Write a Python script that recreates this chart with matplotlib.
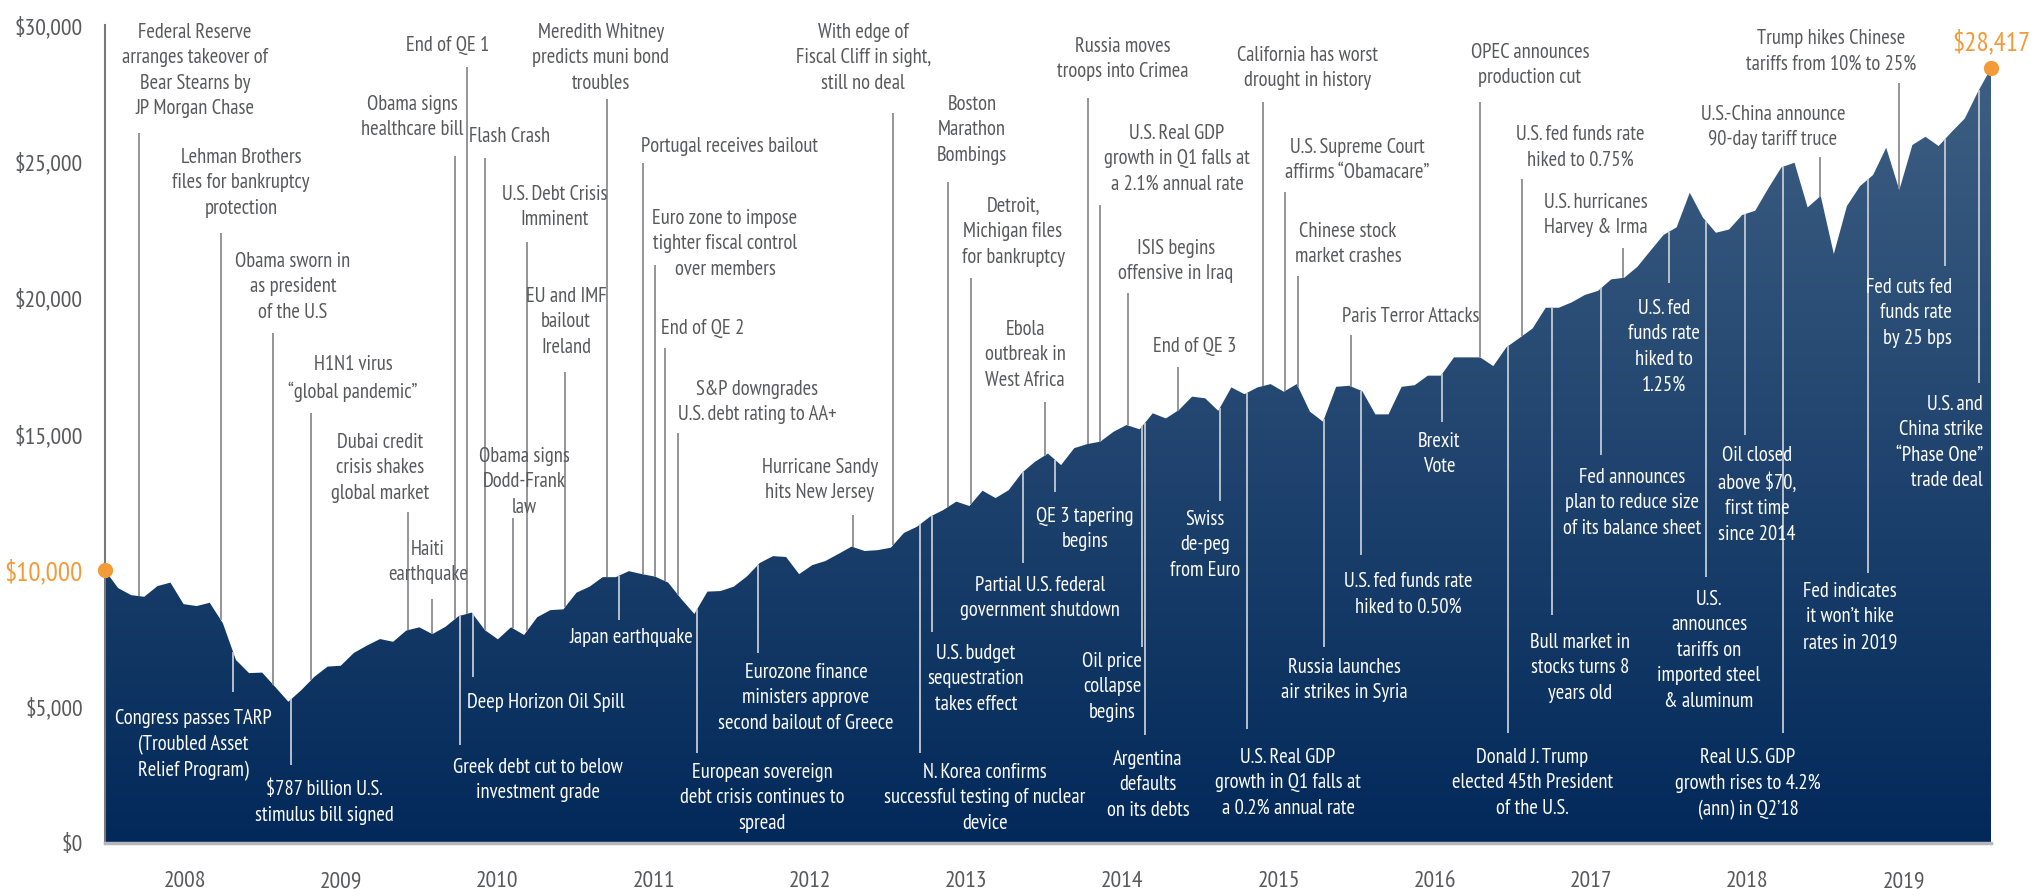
import numpy as np
import matplotlib
matplotlib.use("Agg")
import matplotlib.pyplot as plt
from matplotlib.colors import LinearSegmentedColormap
from matplotlib.patches import Polygon

plt.rcParams['font.family'] = ['PT Sans Narrow', 'Fira Sans Condensed', 'DejaVu Sans']

# growth of $10,000, month ends from Dec 2007 to Dec 2019
values = [10000, 9350, 9090, 9030, 9420, 9550, 8760, 8690, 8810, 8060, 6710, 6230,
          6250, 5720, 5180, 5610, 6100, 6470, 6500, 6970, 7240, 7480, 7380, 7790,
          7910, 7660, 7930, 8320, 8450, 7810, 7470, 7910, 7630, 8280, 8540, 8570,
          9180, 9400, 9750, 9750, 9970, 9860, 9770, 9550, 8950, 8400, 9220, 9240,
          9400, 9770, 10270, 10520, 10490, 9860, 10190, 10340, 10600, 10870, 10710, 10740,
          10830, 11370, 11600, 11970, 12210, 12520, 12360, 12920, 12650, 12940, 13570, 13980,
          14280, 13860, 14480, 14630, 14720, 15080, 15330, 15170, 15760, 15570, 15880, 16370,
          16310, 15850, 16710, 16460, 16710, 16830, 16550, 16830, 15820, 15450, 16730, 16770,
          16570, 15720, 15720, 16730, 16790, 17140, 17140, 17810, 17810, 17810, 17490, 18180,
          18520, 18870, 19630, 19630, 19830, 20100, 20250, 20670, 20730, 21130, 21720, 22300,
          22580, 23850, 22940, 22380, 22500, 23030, 23190, 24010, 24780, 24950, 23310, 23730,
          21600, 23360, 24090, 24500, 25500, 23950, 25600, 25900, 25560, 26080, 26570, 27550,
          28417]
years = ['2008', '2009', '2010', '2011', '2012', '2013',
         '2014', '2015', '2016', '2017', '2018', '2019']
yticks = [0, 5000, 10000, 15000, 20000, 25000, 30000]

# events drawn above the curve: (text, month index)
events_above = [
    ("Federal Reserve\narranges takeover of\nBear Stearns by\nJP Morgan Chase", 2.6),
    ("Lehman Brothers\nfiles for bankruptcy\nprotection", 8.86),
    ("Obama sworn in\nas president\nof the U.S", 12.83),
    ("H1N1 virus\n“global pandemic”", 15.73),
    ("Dubai credit\ncrisis shakes\nglobal market", 23.13),
    ("Haiti\nearthquake", 24.97),
    ("Obama signs\nhealthcare bill", 26.72),
    ("End of QE 1", 27.64),
    ("Flash Crash", 29.01),
    ("Obama signs\nDodd-Frank\nlaw", 31.15),
    ("U.S. Debt Crisis\nImminent", 32.22),
    ("EU and IMF\nbailout\nIreland", 35.12),
    ("Meredith Whitney\npredicts muni bond\ntroubles", 38.33),
    ("Portugal receives bailout", 41.08),
    ("Euro zone to impose\ntighter fiscal control\nover members", 41.99),
    ("End of QE 2", 42.76),
    ("S&P downgrades\nU.S. debt rating to AA+", 43.75),
    ("Hurricane Sandy\nhits New Jersey", 57.11),
    ("With edge of\nFiscal Cliff in sight,\nstill no deal", 60.17),
    ("Boston\nMarathon\nBombings", 64.37),
    ("Detroit,\nMichigan files\nfor bankruptcy", 66.12),
    ("Ebola\noutbreak in\nWest Africa", 71.77),
    ("Russia moves\ntroops into Crimea", 75.06),
    ("U.S. Real GDP\ngrowth in Q1 falls at\na 2.1% annual rate", 75.97),
    ("ISIS begins\noffensive in Iraq", 78.11),
    ("End of QE 3", 81.93),
    ("California has worst\ndrought in history", 88.42),
    ("U.S. Supreme Court\naffirms “Obamacare”", 90.1),
    ("Chinese stock\nmarket crashes", 91.09),
    ("Paris Terror Attacks", 95.14),
    ("OPEC announces\nproduction cut", 104.99),
    ("U.S. fed funds rate\nhiked to 0.75%", 108.19),
    ("U.S. hurricanes\nHarvey & Irma", 115.91),
    ("U.S.-China announce\n90-day tariff truce", 130.95),
    ("Trump hikes Chinese\ntariffs from 10% to 25%", 136.98),
]

# events drawn inside the area: (text, month index)
events_below = [
    ("Congress passes TARP\n(Troubled Asset\nRelief Program)", 9.77),
    ("$787 billion U.S.\nstimulus bill signed", 14.2),
    ("Greek debt cut to below\ninvestment grade", 27.11),
    ("Deep Horizon Oil Spill", 28.1),
    ("Japan earthquake", 39.25),
    ("European sovereign\ndebt crisis continues to\nspread", 45.2),
    ("Eurozone finance\nministers approve\nsecond bailout of Greece", 49.86),
    ("N. Korea confirms\nsuccessful testing of nuclear\ndevice", 62.23),
    ("U.S. budget\nsequestration\ntakes effect", 63.14),
    ("Partial U.S. federal\ngovernment shutdown", 70.09),
    ("QE 3 tapering\nbegins", 72.54),
    ("Oil price\ncollapse\nbegins", 79.18),
    ("Argentina\ndefaults\non its debts", 79.41),
    ("Swiss\nde-peg\nfrom Euro", 85.13),
    ("U.S. Real GDP\ngrowth in Q1 falls at\na 0.2% annual rate", 87.2),
    ("Russia launches\nair strikes in Syria", 93.08),
    ("U.S. fed funds rate\nhiked to 0.50%", 95.9),
    ("Brexit\nVote", 102.08),
    ("Donald J. Trump\nelected 45th President\nof the U.S.", 107.12),
    ("Bull market in\nstocks turns 8\nyears old", 110.48),
    ("Fed announces\nplan to reduce size\nof its balance sheet", 114.22),
    ("U.S. fed\nfunds rate\nhiked to\n1.25%", 119.42),
    ("U.S.\nannounces\ntariffs on\nimported steel\n& aluminum", 122.24),
    ("Oil closed\nabove $70,\nfirst time\nsince 2014", 125.22),
    ("Real U.S. GDP\ngrowth rises to 4.2%\n(ann) in Q2’18", 128.12),
    ("Fed indicates\nit won’t hike\nrates in 2019", 134.61),
    ("Fed cuts fed\nfunds rate\nby 25 bps", 140.49),
    ("U.S. and\nChina strike\n“Phase One”\ntrade deal", 143.09),
]

# label placement: (label x, label top, end of leader line)
layout_above = [
    (6.87, 30073, 26039), (10.38, 25489, 22372), (14.35, 21675, 18704),
    (18.94, 17897, 15770), (21.0, 15037, 12139), (24.66, 11113, 8949),
    (23.44, 27433, 25196), (26.19, 29597, 28460), (30.92, 26259, 25122),
    (31.99, 14523, 11919), (34.36, 24132, 22042), (35.2, 20391, 17274),
    (37.87, 30073, 27286), (47.72, 25893, 24939), (47.34, 23252, 21198),
    (45.66, 19218, 18154), (49.78, 16981, 15037), (54.59, 14120, 12029),
    (57.88, 30073, 26773), (66.2, 27433, 24242), (69.33, 23692, 20721),
    (70.25, 19181, 16174), (77.73, 29560, 27323), (81.85, 26369, 23399),
    (81.77, 22152, 20171), (83.22, 18558, 17457), (91.85, 29230, 27176),
    (95.6, 25856, 23875), (94.91, 22775, 20795), (99.72, 19658, 18631),
    (108.8, 29340, 27176), (112.62, 26333, 24352), (113.85, 23839, 21822),
    (127.36, 27066, 25159), (131.79, 29853, 27873),
]
layout_below = [
    (6.72, 4914, 5538), (16.72, 2311, 2861), (33.06, 3117, 3594),
    (33.67, 5501, 6088), (40.16, 7885, 8179), (50.16, 2934, 3301),
    (53.52, 6602, 6968), (67.19, 2934, 3301), (66.5, 7298, 7738),
    (71.39, 9792, 10269), (74.83, 12323, 12873), (76.89, 7005, 7188),
    (79.64, 3411, 3961), (83.99, 12213, 12543), (90.33, 3484, 4181),
    (94.6, 6785, 7188), (99.49, 9939, 10562), (101.86, 15073, 15440),
    (108.96, 3484, 4034), (112.62, 7702, 8362), (116.59, 13753, 14230),
    (119.03, 19951, 20538), (122.47, 9279, 9756), (126.14, 14560, 14963),
    (125.45, 3484, 4034), (133.24, 9572, 9902), (141.02, 20721, 21161),
    (143.39, 16430, 16871),
]
right_aligned = {"Fed cuts fed\nfunds rate\nby 25 bps",
                 "U.S. and\nChina strike\n“Phase One”\ntrade deal"}

GRAY = '#58595b'
LINE_GRAY = '#8a8c91'
LINE_LIGHT = '#c3cad4'
ORANGE = '#f29b38'
FS = 14.8
LS = 1.43

months = np.arange(len(values))
vals = np.array(values, dtype=float)

fig = plt.figure(figsize=(20.34, 8.89), dpi=100)
ax = fig.add_axes([105 / 2034, 46 / 889, 1886 / 2034, 818 / 889])

# area with vertical gradient
cmap = LinearSegmentedColormap.from_list('navy', ['#02295a', '#3e5f83'])
grad = np.linspace(0, 1, 256).reshape(-1, 1)
im = ax.imshow(grad, extent=[0, months[-1], 0, vals.max()], origin='lower',
               aspect='auto', cmap=cmap, zorder=1)
verts = np.column_stack([np.r_[months, months[::-1]], np.r_[vals, np.zeros_like(vals)]])
area = Polygon(verts, closed=True, facecolor='none', edgecolor='none')
ax.add_patch(area)
im.set_clip_path(area)
ax.set_xlim(0, months[-1])
ax.set_ylim(0, 30000)

for (text, m), (lx, ly, lend) in zip(events_above, layout_above):
    ax.text(lx, ly, text, ha='center', va='top', fontsize=FS, color=GRAY,
            linespacing=LS, zorder=4)
    ax.plot([m, m], [np.interp(m, months, vals), lend], color=LINE_GRAY,
            lw=1.3, zorder=3, solid_capstyle='butt')

for (text, m), (lx, ly, lend) in zip(events_below, layout_below):
    ha = 'right' if text in right_aligned else 'center'
    ax.text(lx, ly, text, ha=ha, va='top', fontsize=FS, color='white',
            linespacing=LS, zorder=4)
    ax.plot([m, m], [np.interp(m, months, vals), lend], color=LINE_LIGHT,
            lw=1.3, zorder=3, solid_capstyle='butt')

# start and end markers
ax.plot([months[0], months[-1]], [vals[0], vals[-1]], 'o', color=ORANGE,
        ms=10, clip_on=False, zorder=5)
ax.text(months[-1], 29350, '$28,417', ha='center', va='center',
        fontsize=19.5, color=ORANGE, zorder=5)

# axes styling
ax.set_yticks(yticks, labels=['$0' if t == 0 else f'${t:,}' for t in yticks])
ax.set_xticks([6.1 + 11.93 * i for i in range(len(years))], labels=years)
ax.tick_params(axis='both', length=0, labelsize=17, labelcolor=GRAY)
ax.tick_params(axis='y', pad=16)
ax.tick_params(axis='x', pad=20)
lab = ax.get_yticklabels()[2]
lab.set_color(ORANGE)
lab.set_fontsize(19.5)

for s in ['top', 'right']:
    ax.spines[s].set_visible(False)
ax.spines['left'].set_color('#77787b')
ax.spines['left'].set_linewidth(1.5)
ax.spines['bottom'].set_color('#b5b7bb')
ax.spines['bottom'].set_linewidth(2.5)

fig.savefig('out.png', dpi=100)
